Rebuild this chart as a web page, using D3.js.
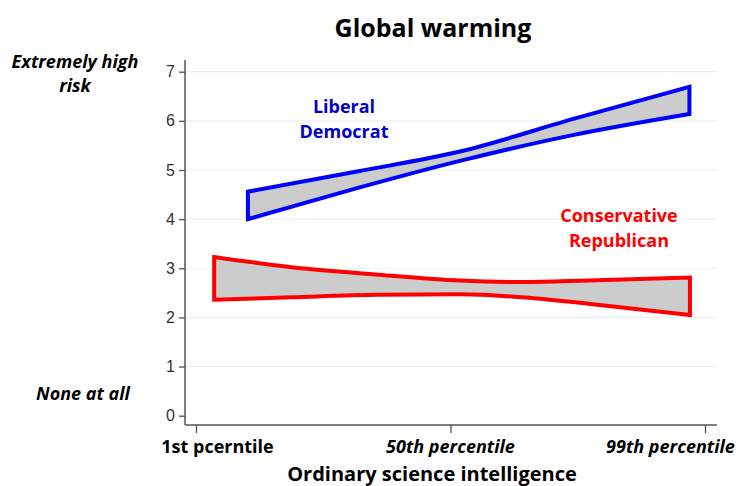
<!DOCTYPE html>
<html>
<head>
<meta charset="utf-8">
<script src="https://cdn.jsdelivr.net/npm/d3@7"></script>
<style>
  body { margin: 0; background: #fff; }
  svg { display: block; }
  .lbl { font-family: "Open Sans", sans-serif; font-weight: bold; }
</style>
</head>
<body>
<svg width="738" height="486"></svg>
<script>
// percentile positions and predicted risk bounds
var libPct   = [11, 32, 52, 74, 96],
    libUpper = [4.56, 4.97, 5.38, 6.05, 6.69],
    libLower = [4.00, 4.63, 5.19, 5.72, 6.14];

var conPct   = [4.5, 19.4, 36.1, 51.8, 63.7, 76.5, 96.1],
    conUpper = [3.23, 3.02, 2.87, 2.75, 2.72, 2.75, 2.81],
    conLower = [2.36, 2.41, 2.46, 2.47, 2.41, 2.28, 2.05];

var yTicks = [0, 1, 2, 3, 4, 5, 6, 7];
var xTicks = [1, 50, 99],
    xTickLabels = ["1st pcerntile", "50th percentile", "99th percentile"];

var svg = d3.select("svg");

var x = d3.scaleLinear().domain([1, 99]).range([196, 705]),
    y = d3.scaleLinear().domain([0, 7]).range([415.7, 71.7]);

var plotLeft = 185, plotRight = 717, plotBottom = 425, plotTop = 60;

// gridlines
svg.append("g").selectAll("line")
    .data(yTicks.slice(1))
    .enter().append("line")
    .attr("x1", plotLeft + 1).attr("x2", plotRight)
    .attr("y1", function(d) { return y(d); })
    .attr("y2", function(d) { return y(d); })
    .attr("stroke", "#eaf0f0")
    .attr("stroke-width", 1.2);

// y axis
var gy = svg.append("g")
    .attr("transform", "translate(" + plotLeft + ",0)")
    .call(d3.axisLeft(y).tickValues(yTicks).tickFormat(d3.format("d")).tickSize(6).tickPadding(4));
gy.select(".domain").remove();
gy.selectAll(".tick line").attr("stroke", "#555").attr("stroke-width", 1.3);
gy.selectAll(".tick text")
    .attr("font-family", "Liberation Sans, Arial, sans-serif")
    .attr("font-size", 16).attr("fill", "#333");

// x axis
var gx = svg.append("g")
    .attr("transform", "translate(0," + plotBottom + ")")
    .call(d3.axisBottom(x).tickValues(xTicks).tickSize(8).tickFormat(""));
gx.select(".domain").remove();
gx.selectAll(".tick line").attr("stroke", "#555").attr("stroke-width", 1.3);

svg.append("line")
    .attr("x1", plotLeft).attr("x2", plotLeft).attr("y1", plotTop).attr("y2", plotBottom)
    .attr("stroke", "#555").attr("stroke-width", 1.5);
svg.append("line")
    .attr("x1", plotLeft).attr("x2", plotRight).attr("y1", plotBottom).attr("y2", plotBottom)
    .attr("stroke", "#555").attr("stroke-width", 1.5);

// tick labels are offset from the ticks in the original
var labelShift = [21.5, 0, -34.5];
svg.append("g").selectAll("text")
    .data(xTicks)
    .enter().append("text")
    .attr("class", "lbl")
    .attr("x", function(d, i) { return x(d) + labelShift[i]; })
    .attr("y", 453)
    .attr("text-anchor", "middle")
    .attr("font-size", 18)
    .attr("font-style", function(d, i) { return i === 0 ? "normal" : "italic"; })
    .attr("fill", "#000")
    .text(function(d, i) { return xTickLabels[i]; });

// bands
function band(pct, upper, lower) {
  var rows = pct.map(function(p, i) { return {p: p, hi: upper[i], lo: lower[i]}; });
  return d3.area()
      .x(function(d) { return x(d.p); })
      .y0(function(d) { return y(d.lo); })
      .y1(function(d) { return y(d.hi); })
      .curve(d3.curveMonotoneX)(rows);
}

svg.append("path")
    .attr("d", band(libPct, libUpper, libLower))
    .attr("fill", "#cccccc")
    .attr("stroke", "#0000ff")
    .attr("stroke-width", 4)
    .attr("stroke-linejoin", "miter");

svg.append("path")
    .attr("d", band(conPct, conUpper, conLower))
    .attr("fill", "#cccccc")
    .attr("stroke", "#ff0000")
    .attr("stroke-width", 4)
    .attr("stroke-linejoin", "miter");

// text
function textLines(lines, cx, y0, gap, size, color, style) {
  lines.forEach(function(t, i) {
    svg.append("text")
        .attr("class", "lbl")
        .attr("x", cx).attr("y", y0 + i * gap)
        .attr("text-anchor", "middle")
        .attr("font-size", size)
        .attr("font-style", style || "normal")
        .attr("fill", color)
        .text(t);
  });
}

textLines(["Global warming"], 433, 37, 0, 25, "#000");
textLines(["Liberal", "Democrat"], 344, 112.5, 25, 18, "#0000cc");
textLines(["Conservative", "Republican"], 619, 222, 24.5, 18, "#ff0000");
textLines(["Extremely high", "risk"], 75, 68, 23.5, 18, "#000", "italic");
textLines(["None at all"], 83, 400, 0, 18, "#000", "italic");
textLines(["Ordinary science intelligence"], 432, 481, 0, 20, "#000");
</script>
</body>
</html>
